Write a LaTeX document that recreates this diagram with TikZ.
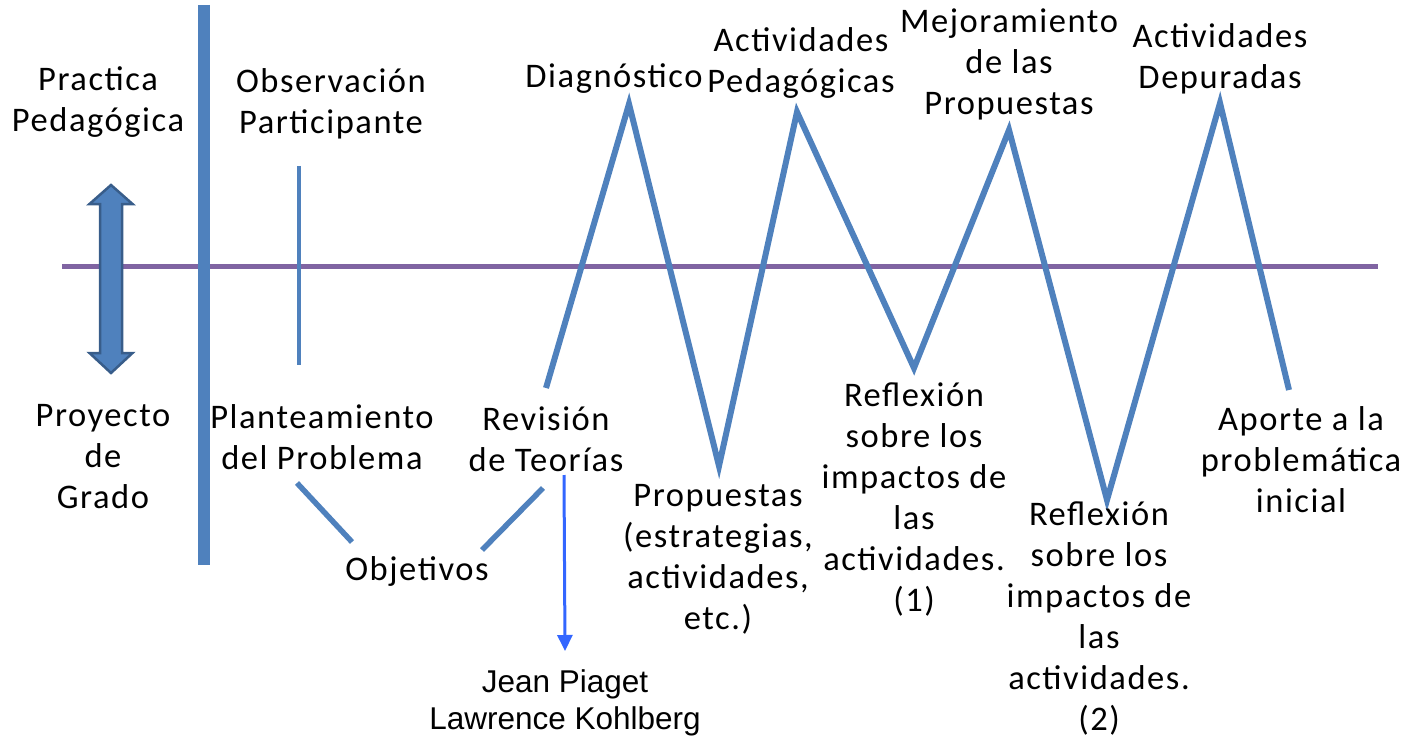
\documentclass[tikz,border=0pt]{standalone}
\usepackage{fontspec}
\setmainfont{Carlito}[LetterSpace=4.5]
\newfontfamily\arialf{Liberation Sans}
\usetikzlibrary{arrows.meta}
\definecolor{zblue}{HTML}{4F81BD}
\definecolor{zpurple}{HTML}{8064A2}
\definecolor{zdark}{HTML}{385D8A}
\definecolor{zarrow}{HTML}{3366FF}
\tikzset{
  lbl/.style={inner sep=0pt, align=center, font=\fontsize{34.5}{41}\selectfont, text=black},
  albl/.style={inner sep=0pt, align=center, font=\arialf\fontsize{31.5}{37}\selectfont, text=black},
  zig/.style={draw=zblue, line width=6pt, line join=miter},
  thinline/.style={draw=zblue, line width=4pt},
}
\begin{document}
\begin{tikzpicture}[x=1pt,y=-1pt]
\useasboundingbox (0,0) rectangle (1404,738);
% horizontal axis
\coordinate (hl) at (62,266);
\coordinate (hr) at (1378,266);
\draw[zpurple, line width=5pt] (hl) -- (hr);
% thick vertical
\coordinate (vt) at (204,5);
\coordinate (vb) at (204,565);
\draw[zblue, line width=12pt] (vt) -- (vb);
% thin vertical
\coordinate (tt) at (299,166);
\coordinate (tb) at (299,365);
\draw[thinline] (tt) -- (tb);
% double arrow
\draw[fill=zblue, draw=zdark, line width=2.5pt, line join=miter]
  (111,185) -- (132.5,204) -- (122,204) -- (122,353) -- (132.5,353) -- (111,373)
  -- (89.5,353) -- (100,353) -- (100,204) -- (89.5,204) -- cycle;
% zigzag
\coordinate (z0) at (546,388);
\coordinate (z1) at (629,104);
\coordinate (z2) at (719,466);
\coordinate (z3) at (797,112);
\coordinate (z4) at (914,368);
\coordinate (z5) at (1009,130);
\coordinate (z6) at (1107,500);
\coordinate (z7) at (1220,103);
\coordinate (z8) at (1289,390);
\draw[zig] (z0) -- (z1) -- (z2) -- (z3) -- (z4) -- (z5) -- (z6) -- (z7) -- (z8);
% objective connectors
\coordinate (pa) at (297,483);
\coordinate (pb) at (352,542);
\coordinate (ra) at (543,488);
\coordinate (rb) at (482,550);
\draw[zblue, line width=5.5pt] (pa) -- (pb);
\draw[zblue, line width=5.5pt] (ra) -- (rb);
% texts
\node[lbl] (prac) at (98,102) {Practica\\Pedagógica};
\node[lbl] (proy) at (103,457) {Proyecto\\de\\Grado};
\node[lbl] (obs) at (331,104) {Observación\\Participante};
\node[lbl] (plan) at (322,437) {Planteamiento\\del Problema};
\node[lbl] (obj) at (417,571) {Objetivos};
\node[lbl] (rev) at (546,439) {Revisión\\de Teorías};
\node[lbl] (diag) at (614,79) {Diagnóstico};
\node[lbl] (actp) at (801,63) {Actividades\\Pedagógicas};
\node[lbl] (mej) at (1009,64) {Mejoramiento\\de las\\Propuestas};
\node[lbl] (actd) at (1220,59) {Actividades\\Depuradas};
\node[lbl] (prop) at (718,559) {Propuestas\\(estrategias,\\actividades,\\etc.)};
\node[lbl] (ref1) at (914,500) {Reflexión\\sobre los\\impactos de\\las\\actividades.\\(1)};
\node[lbl] (ref2) at (1099,619) {Reflexión\\sobre los\\impactos de\\las\\actividades.\\(2)};
\node[lbl] (apo) at (1301,460) {Aporte a la\\problemática\\inicial};
\node[albl] (jean) at (565,703) {Jean Piaget\\Lawrence Kohlberg};
% arrow to authors
\coordinate (as) at (564,475);
\coordinate (ae) at (565,651);
\draw[zarrow, line width=3pt, -{Triangle[length=16pt,width=15pt]}] (as) -- (ae);
\end{tikzpicture}
\end{document}
